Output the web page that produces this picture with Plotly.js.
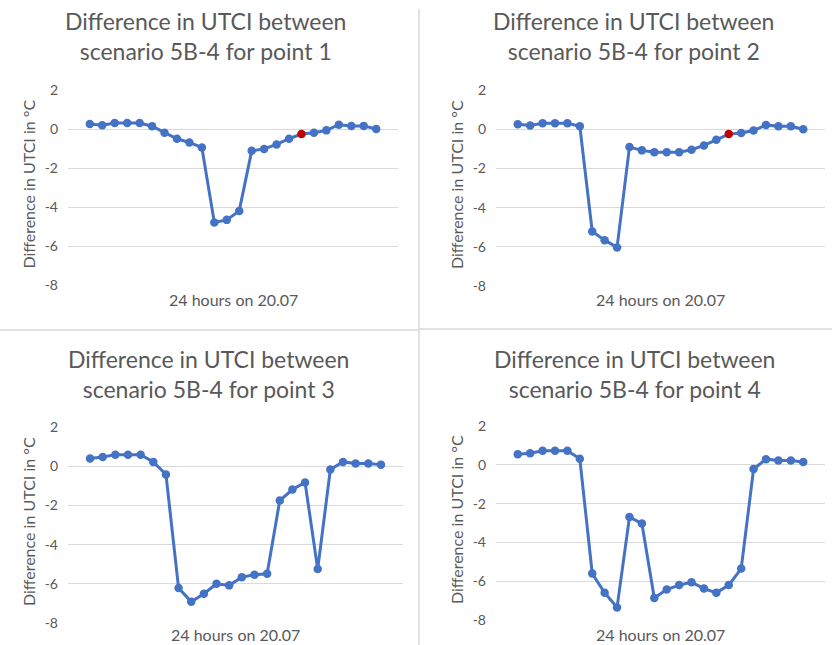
<!DOCTYPE html>
<html>
<head>
<meta charset="utf-8">
<script src="https://cdn.plot.ly/plotly-3.0.1.min.js"></script>
<style>html,body{margin:0;padding:0;background:#fff;}#chart{width:832px;height:645px;}</style>
</head>
<body>
<div id="chart"></div>
<script>
// 24 hourly categories
const hours = ["0","1","2","3","4","5","6","7","8","9","10","11","12","13","14","15","16","17","18","19","20","21","22","23"];
const point1 = [0.26,0.19,0.31,0.31,0.31,0.14,-0.19,-0.5,-0.69,-0.95,-4.79,-4.66,-4.2,-1.12,-1.02,-0.79,-0.5,-0.26,-0.19,-0.07,0.22,0.16,0.16,0.0];
const point2 = [0.25,0.19,0.3,0.3,0.3,0.15,-5.22,-5.66,-6.03,-0.91,-1.08,-1.17,-1.17,-1.17,-1.05,-0.83,-0.54,-0.25,-0.19,-0.07,0.22,0.15,0.15,0.0];
const point3 = [0.39,0.47,0.59,0.59,0.59,0.22,-0.42,-6.22,-6.92,-6.51,-6.0,-6.08,-5.66,-5.54,-5.49,-1.75,-1.19,-0.83,-5.25,-0.17,0.22,0.14,0.14,0.08];
const point4 = [0.55,0.6,0.72,0.72,0.72,0.31,-5.6,-6.6,-7.35,-2.69,-3.03,-6.86,-6.43,-6.2,-6.05,-6.38,-6.6,-6.2,-5.35,-0.22,0.29,0.22,0.22,0.14];
const highlightIndex = [17, 17, -1, -1]; // selected (red) point per panel
const panelTitles = ["Difference in UTCI between<br>scenario 5B-4 for point 1",
                     "Difference in UTCI between<br>scenario 5B-4 for point 2",
                     "Difference in UTCI between<br>scenario 5B-4 for point 3",
                     "Difference in UTCI between<br>scenario 5B-4 for point 4"];
const yTitle = "Difference in UTCI in °C";
const xTitle = "24 hours on 20.07";
const yTicks = [2,0,-2,-4,-6,-8];

const series = [point1, point2, point3, point4];
const W = 832, H = 645;
const FONT = "Lato, 'Open Sans', sans-serif";
const GRAY = "#595959";
const BLUE = "#4472C4";
const RED = "#C00000";

// pixel boxes of each plot area: [x0, x1, yTop, yBottom]
const boxes = [
  [68, 398, 90, 285],
  [496, 825, 90, 286],
  [68, 403, 427, 623],
  [496, 825, 426, 620]
];
const titleCenters = [[205, 36], [633, 36], [208, 374], [634, 374]];
const xTitleY = [300, 300, 634, 634];

const data = [];
const layout = {
  width: W, height: H,
  margin: {l: 0, r: 0, t: 0, b: 0},
  paper_bgcolor: "#fff", plot_bgcolor: "#fff",
  showlegend: false,
  font: {family: FONT, color: GRAY},
  annotations: [],
  shapes: [
    {type: "line", xref: "paper", yref: "paper", x0: 419/W, x1: 419/W, y0: 0, y1: 1 - 9/H, line: {color: "#d9d9d9", width: 1.5}},
    {type: "line", xref: "paper", yref: "paper", x0: 0, x1: 419/W, y0: 1 - 330/H, y1: 1 - 330/H, line: {color: "#d9d9d9", width: 1.5}},
    {type: "line", xref: "paper", yref: "paper", x0: 419/W, x1: 1, y0: 1 - 329/H, y1: 1 - 329/H, line: {color: "#d9d9d9", width: 1.5}}
  ]
};

series.forEach((vals, i) => {
  const n = i + 1;
  const xa = n === 1 ? "x" : "x" + n;
  const ya = n === 1 ? "y" : "y" + n;
  const colors = vals.map((v, k) => k === highlightIndex[i] ? RED : BLUE);
  data.push({
    type: "scatter", mode: "lines+markers",
    x: hours, y: vals, xaxis: xa, yaxis: ya,
    line: {color: BLUE, width: 3},
    marker: {color: colors, size: 8.5},
    hoverinfo: "skip"
  });
  const b = boxes[i];
  layout["xaxis" + (n === 1 ? "" : n)] = {
    domain: [b[0] / W, b[1] / W],
    anchor: ya,
    type: "category",
    showticklabels: false, ticks: "",
    showgrid: false, zeroline: false, showline: false,
    fixedrange: true
  };
  layout["yaxis" + (n === 1 ? "" : n)] = {
    domain: [1 - b[3] / H, 1 - b[2] / H],
    anchor: xa,
    range: [-8, 2],
    tickvals: yTicks,
    ticktext: yTicks.map(String),
    ticks: "", ticklen: 0,
    ticklabelstandoff: 9,
    tickfont: {family: FONT, size: 14, color: GRAY},
    gridcolor: "#d9d9d9", gridwidth: 1,
    zeroline: false, showline: false,
    fixedrange: true
  };
  const tc = titleCenters[i];
  layout.annotations.push({
    text: panelTitles[i], xref: "paper", yref: "paper",
    x: tc[0] / W, y: 1 - tc[1] / H, xanchor: "center", yanchor: "middle",
    showarrow: false, font: {family: FONT, size: 23, color: GRAY}
  });
  layout.annotations.push({
    text: yTitle, xref: "paper", yref: "paper", textangle: -90,
    x: (b[0] - 40) / W, y: 1 - ((b[2] + b[3]) / 2 - 3) / H,
    xanchor: "center", yanchor: "middle",
    showarrow: false, font: {family: FONT, size: 16, color: GRAY}
  });
  layout.annotations.push({
    text: xTitle, xref: "paper", yref: "paper",
    x: ((b[0] + b[1]) / 2) / W, y: 1 - xTitleY[i] / H,
    xanchor: "center", yanchor: "middle",
    showarrow: false, font: {family: FONT, size: 16, color: GRAY}
  });
});

Plotly.newPlot("chart", data, layout, {staticPlot: true, displayModeBar: false});
</script>
</body>
</html>
